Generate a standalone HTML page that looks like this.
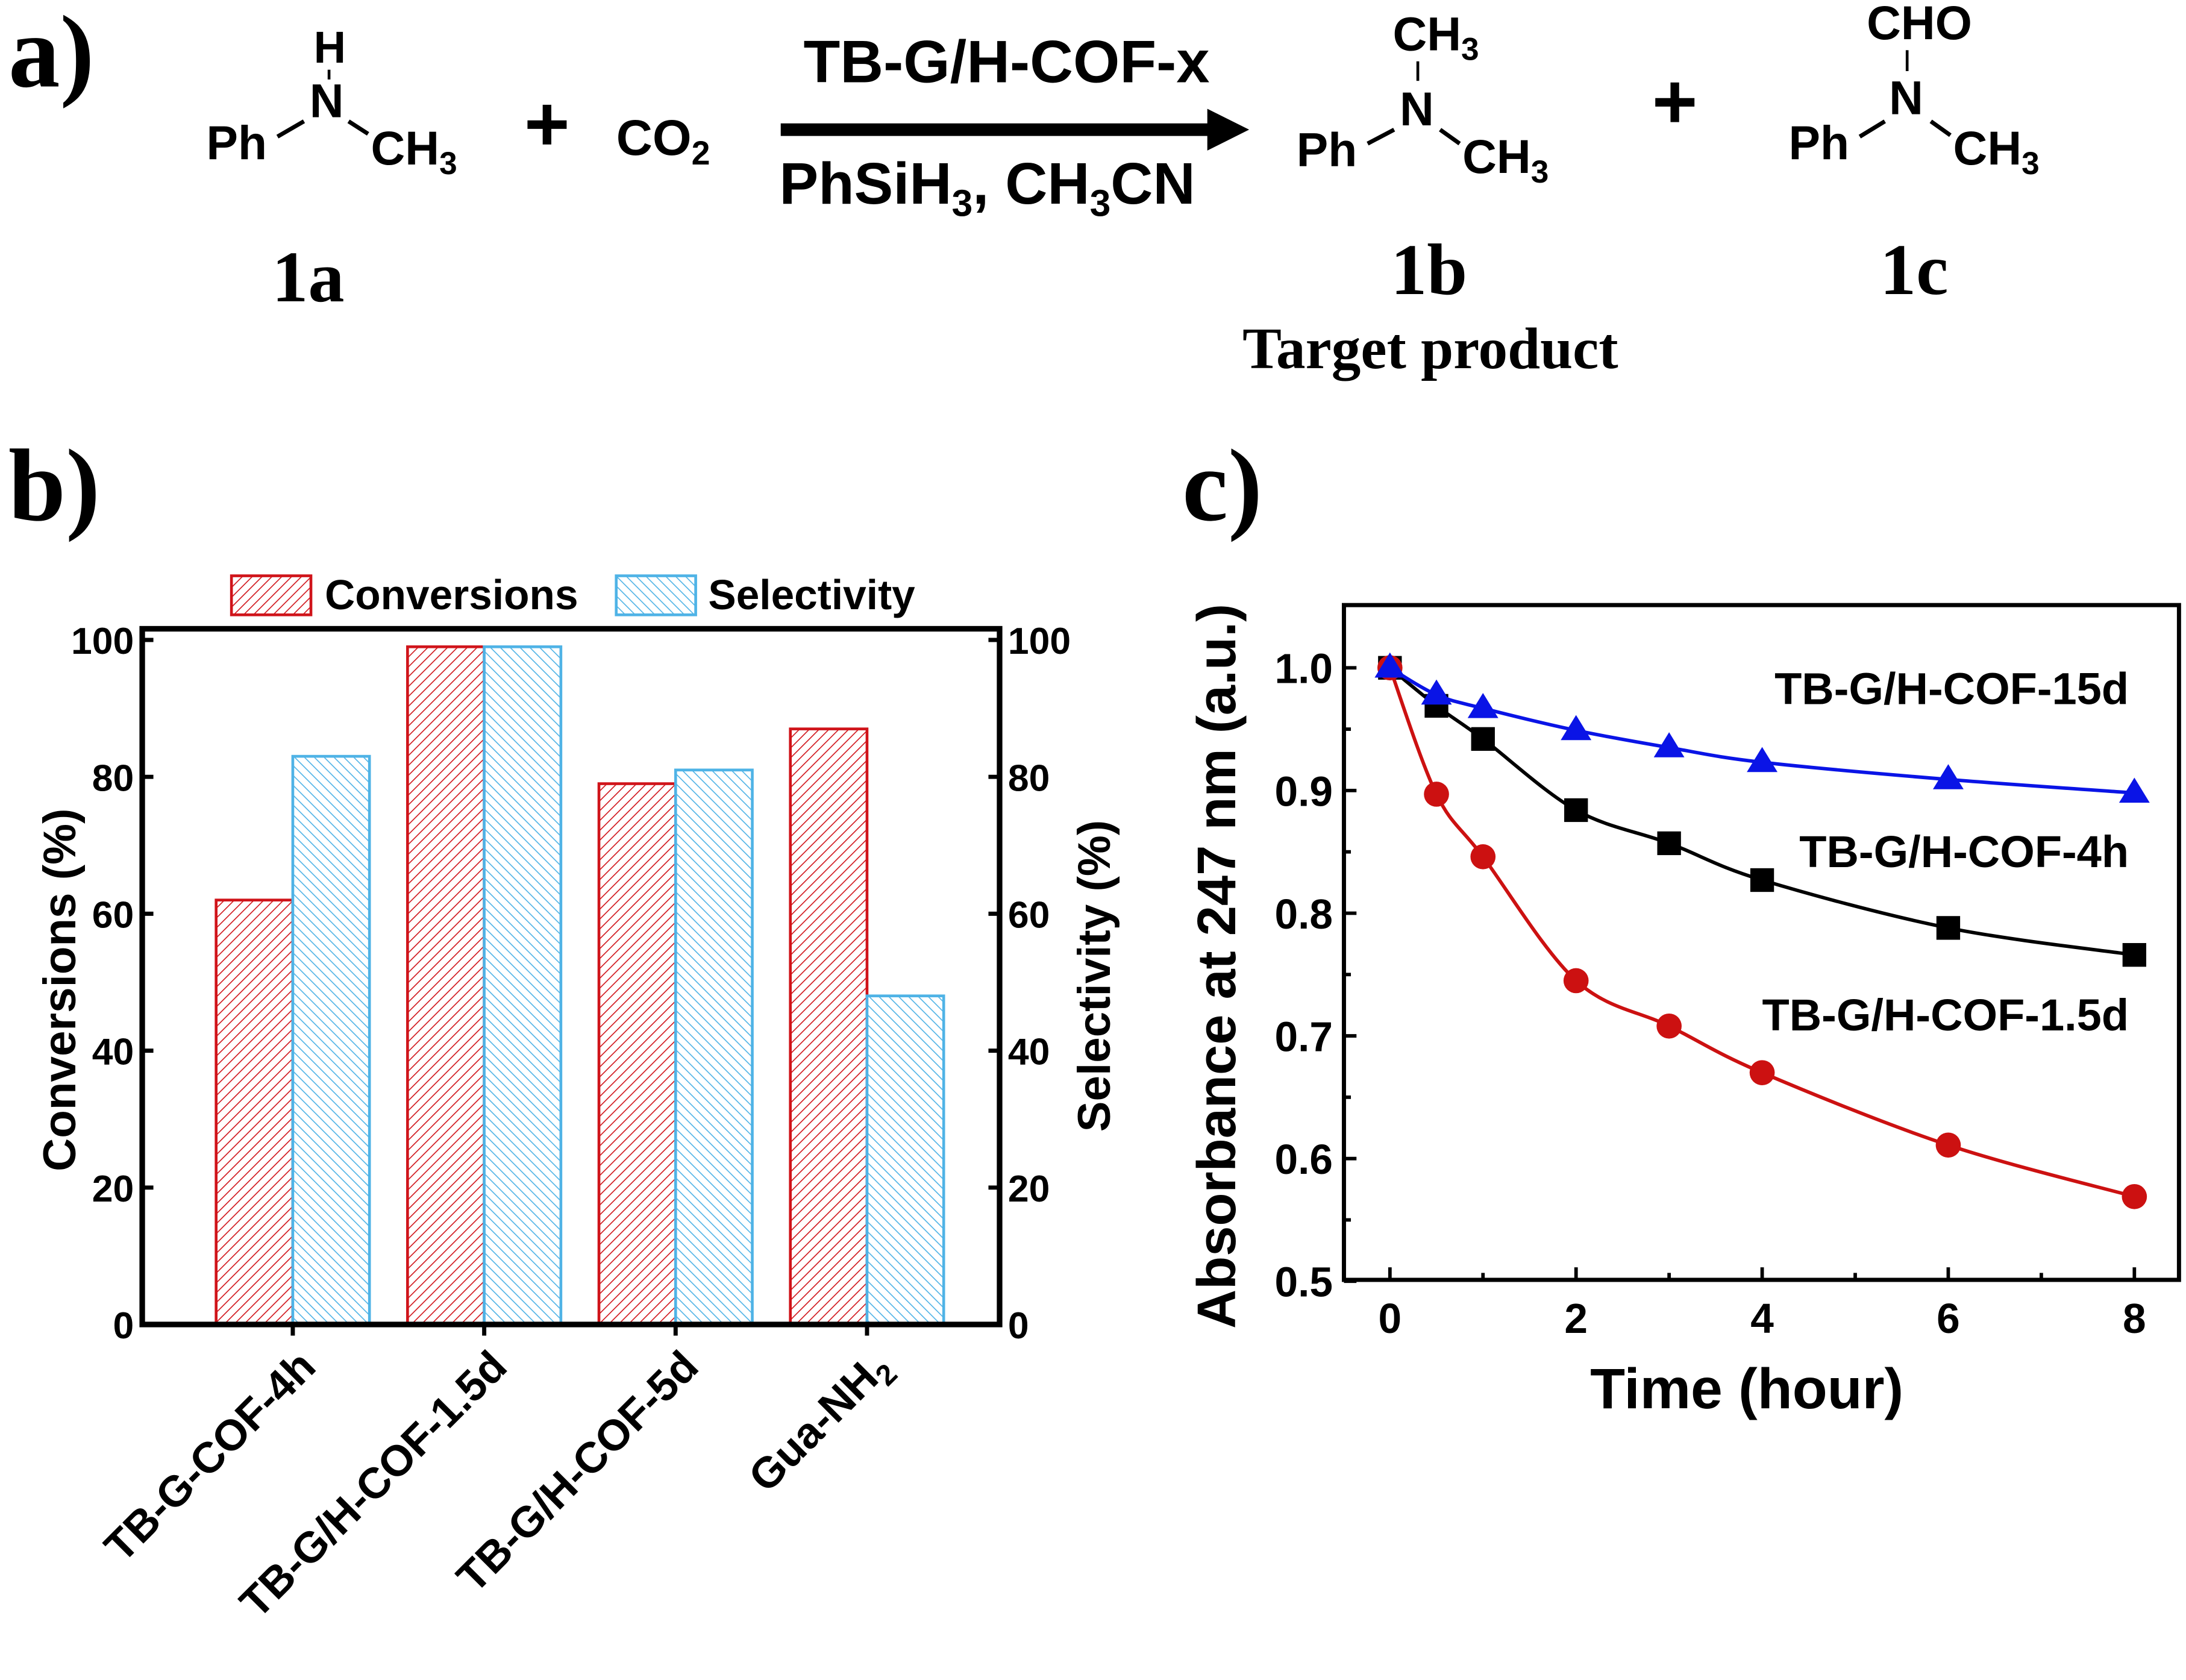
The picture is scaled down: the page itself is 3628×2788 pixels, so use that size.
<!DOCTYPE html>
<html><head><meta charset="utf-8"><style>
html,body{margin:0;padding:0;background:#fff}
svg{display:block}
text{font-family:"Liberation Sans",Arial,sans-serif;font-weight:bold;fill:#000}
.serif{font-family:"Liberation Serif",serif;font-weight:bold}
</style></head><body>
<svg id="fig" width="3628" height="2788" viewBox="0 0 1568 1205" xmlns="http://www.w3.org/2000/svg">
<defs>
<pattern id="hatchR" patternUnits="userSpaceOnUse" width="5" height="5" patternTransform="rotate(45)"><rect width="5" height="5" fill="#fff"/><line x1="0" y1="0" x2="0" y2="5" stroke="#d0141a" stroke-width="1.4"/></pattern>
<pattern id="hatchB" patternUnits="userSpaceOnUse" width="5" height="5" patternTransform="rotate(-45)"><rect width="5" height="5" fill="#fff"/><line x1="0" y1="0" x2="0" y2="5" stroke="#4fb3e6" stroke-width="1.4"/></pattern>
</defs>

<!-- Panel a -->
<g>
<text class="serif" x="6" y="62" font-size="74">a)</text>
<text x="225" y="45" font-size="32">H</text>
<line x1="236" y1="50" x2="236" y2="57" stroke="#000" stroke-width="2"/>
<text x="222" y="84" font-size="34">N</text>
<text x="148" y="114" font-size="34">Ph</text>
<line x1="199" y1="98" x2="218" y2="87" stroke="#000" stroke-width="3"/>
<line x1="250" y1="87" x2="264" y2="96" stroke="#000" stroke-width="3"/>
<text x="266" y="118" font-size="34">CH<tspan font-size="23" dy="7">3</tspan></text>
<text x="376" y="108" font-size="56">+</text>
<text x="442" y="111" font-size="36">CO<tspan font-size="24" dy="7">2</tspan></text>
<line x1="560" y1="93" x2="872" y2="93" stroke="#000" stroke-width="9"/>
<polygon points="866,78 896,93 866,108" fill="#000"/>
<text x="722" y="59" font-size="43" text-anchor="middle">TB-G/H-COF-x</text>
<text x="559" y="146" font-size="42">PhSiH<tspan font-size="27" dy="9">3</tspan><tspan dy="-9">, CH</tspan><tspan font-size="27" dy="9">3</tspan><tspan dy="-9">CN</tspan></text>
<text x="999" y="36" font-size="34">CH<tspan font-size="23" dy="7">3</tspan></text>
<line x1="1017" y1="44" x2="1017" y2="58" stroke="#000" stroke-width="2"/>
<text x="1004" y="90" font-size="34">N</text>
<text x="930" y="119" font-size="34">Ph</text>
<line x1="981" y1="103" x2="1000" y2="93" stroke="#000" stroke-width="3"/>
<line x1="1033" y1="93" x2="1047" y2="103" stroke="#000" stroke-width="3"/>
<text x="1049" y="124" font-size="34">CH<tspan font-size="23" dy="7">3</tspan></text>
<text x="1185" y="92" font-size="56">+</text>
<text x="1339" y="28" font-size="34">CHO</text>
<line x1="1368" y1="36" x2="1368" y2="51" stroke="#000" stroke-width="2"/>
<text x="1355" y="82" font-size="34">N</text>
<text x="1283" y="114" font-size="34">Ph</text>
<line x1="1334" y1="98" x2="1352" y2="87" stroke="#000" stroke-width="3"/>
<line x1="1385" y1="87" x2="1399" y2="97" stroke="#000" stroke-width="3"/>
<text x="1401" y="118" font-size="34">CH<tspan font-size="23" dy="7">3</tspan></text>
<text class="serif" x="221" y="216" font-size="52" text-anchor="middle">1a</text>
<text class="serif" x="1025" y="211" font-size="52" text-anchor="middle">1b</text>
<text class="serif" x="1373" y="211" font-size="52" text-anchor="middle">1c</text>
<text class="serif" x="1026" y="264" font-size="42" text-anchor="middle">Target product</text>
</g>

<text class="serif" x="6" y="373" font-size="74">b)</text>
<text class="serif" x="848" y="373" font-size="74">c)</text>

<g id="chartB"></g>
<g id="chartC"></g>
</svg>
<script>
const NS='http://www.w3.org/2000/svg';
// ---- Panel b data ----
const barCategories=['TB-G-COF-4h','TB-G/H-COF-1.5d','TB-G/H-COF-5d','Gua-NH2'];
const conversions=[62,99,79,87];
const selectivity=[83,99,81,48];
const barTicks=[0,20,40,60,80,100];
// ---- Panel c data ----
const times=[0,0.5,1,2,3,4,6,8];
const abs15d=[1.0,0.978,0.967,0.949,0.935,0.923,0.909,0.898];
const abs4h=[1.0,0.969,0.942,0.884,0.857,0.827,0.788,0.766];
const abs15=[1.0,0.897,0.846,0.745,0.708,0.670,0.611,0.569];
const xTicksC=[0,2,4,6,8];
const yTicksC=[0.5,0.6,0.7,0.8,0.9,1.0];

function mk(tag,attrs,parent,txt){const e=document.createElementNS(NS,tag);for(const k in attrs)e.setAttribute(k,attrs[k]);if(txt!==undefined)e.textContent=txt;parent.appendChild(e);return e;}

// ===== Bar chart =====
(function(){
const g=document.getElementById('chartB');
const L=102,R=717,T=451,B=950;
const ys=v=>B-v*4.91;
const xc=i=>210+i*137.3;
const bw=55;
barCategories.forEach((c,i)=>{
 const r=mk('rect',{x:xc(i)-bw,y:ys(conversions[i]),width:bw,height:B-ys(conversions[i]),fill:'url(#hatchR)',stroke:'#d0141a','stroke-width':2},g);
 
 
 const b=mk('rect',{x:xc(i),y:ys(selectivity[i]),width:bw,height:B-ys(selectivity[i]),fill:'url(#hatchB)',stroke:'#4fb3e6','stroke-width':2},g);
 
 
 mk('line',{x1:xc(i),y1:B,x2:xc(i),y2:B+8,stroke:'#000','stroke-width':3},g);
 const t=mk('text',{x:0,y:0,'font-size':31,'text-anchor':'end',transform:`translate(${xc(i)+18},${B+32}) rotate(-45)`},g,'');
 if(c==='Gua-NH2'){t.textContent='Gua-NH';mk('tspan',{'font-size':21,dy:7},t,'2');}else t.textContent=c;
 
 
});
const ax=mk('rect',{x:L,y:T,width:R-L,height:B-T,fill:'none',stroke:'#000','stroke-width':4},g);


barTicks.forEach(v=>{
 mk('line',{x1:L,y1:ys(v),x2:L+8,y2:ys(v),stroke:'#000','stroke-width':3},g);
 mk('line',{x1:R-8,y1:ys(v),x2:R,y2:ys(v),stroke:'#000','stroke-width':3},g);
 const a=mk('text',{x:L-6,y:ys(v)+10,'font-size':27,'text-anchor':'end'},g,String(v));
 
 
 const b=mk('text',{x:R+6,y:ys(v)+10,'font-size':27},g,String(v));
 
 
});
const yt=mk('text',{x:0,y:0,'font-size':33,'text-anchor':'middle',transform:`translate(54,710) rotate(-90)`},g,'Conversions (%)');


const yt2=mk('text',{x:0,y:0,'font-size':33,'text-anchor':'middle',transform:`translate(796,700) rotate(-90)`},g,'Selectivity (%)');


const l1=mk('rect',{x:166,y:413,width:57,height:28,fill:'url(#hatchR)',stroke:'#d0141a','stroke-width':2},g);


const lt1=mk('text',{x:233,y:437,'font-size':30},g,'Conversions');


const l2=mk('rect',{x:442,y:413,width:57,height:28,fill:'url(#hatchB)',stroke:'#4fb3e6','stroke-width':2},g);


const lt2=mk('text',{x:508,y:437,'font-size':30},g,'Selectivity');


})();

// ===== Line chart =====
(function(){
const g=document.getElementById('chartC');
const L=964,R=1563,T=434,B=918;
const x=t=>997+t*66.75;
const y=v=>479+(1.0-v)*880;
const ax=mk('rect',{x:L,y:T,width:R-L,height:B-T,fill:'none',stroke:'#000','stroke-width':3},g);


for(let t=0;t<=8;t++){mk('line',{x1:x(t),y1:B,x2:x(t),y2:B-(t%2?5:9),stroke:'#000','stroke-width':2.5},g);}
xTicksC.forEach(t=>{const e=mk('text',{x:x(t),y:B+38,'font-size':30,'text-anchor':'middle'},g,String(t));
 
 });
for(let k=0;k<=10;k++){const v=0.5+k*0.05;mk('line',{x1:L,y1:y(v),x2:L+(k%2?5:9),y2:y(v),stroke:'#000','stroke-width':2.5},g);}
yTicksC.forEach(v=>{const e=mk('text',{x:L-8,y:y(v)+11,'font-size':30,'text-anchor':'end'},g,v.toFixed(1));
 
 });
const xt=mk('text',{x:1253,y:1010,'font-size':41,'text-anchor':'middle'},g,'Time (hour)');


const yt=mk('text',{x:0,y:0,'font-size':39,'text-anchor':'middle',transform:'translate(886,693) rotate(-90)'},g,'Absorbance at 247 nm (a.u.)');


function spline(vals){const p=times.map((t,i)=>[x(t),y(vals[i])]);let d='M'+p[0][0]+','+p[0][1];
 for(let i=0;i<p.length-1;i++){const p0=p[i-1]||p[i],p1=p[i],p2=p[i+1],p3=p[i+2]||p2;
 const c1=[p1[0]+(p2[0]-p0[0])/6,p1[1]+(p2[1]-p0[1])/6],c2=[p2[0]-(p3[0]-p1[0])/6,p2[1]-(p3[1]-p1[1])/6];
 d+=` C${c1[0]},${c1[1]} ${c2[0]},${c2[1]} ${p2[0]},${p2[1]}`;}return d;}
const series=[[abs4h,'#000','square','series-4h'],[abs15,'#cc1111','circle','series-1.5d'],[abs15d,'#0a14e6','triangle','series-15d']];
series.forEach(([vals,col,shape,name])=>{
 const pth=mk('path',{d:spline(vals),fill:'none',stroke:col,'stroke-width':2.5},g);
 
 
 times.forEach((t,i)=>{const cx=x(t),cy=y(vals[i]);let m;
  if(shape==='square')m=mk('rect',{x:cx-8.5,y:cy-8.5,width:17,height:17,fill:col},g);
  else if(shape==='circle')m=mk('circle',{cx:cx,cy:cy,r:9,fill:col},g);
  else m=mk('polygon',{points:`${cx},${cy-11} ${cx+11},${cy+7} ${cx-11},${cy+7}`,fill:col},g);
  
  });
});
[['TB-G/H-COF-15d',505,'label-15d'],['TB-G/H-COF-4h',622,'label-4h'],['TB-G/H-COF-1.5d',739,'label-1.5d']].forEach(([s,yy,n])=>{
 const e=mk('text',{x:1527,y:yy,'font-size':32,'text-anchor':'end'},g,s);
 
 });
})();
</script>
</body></html>
